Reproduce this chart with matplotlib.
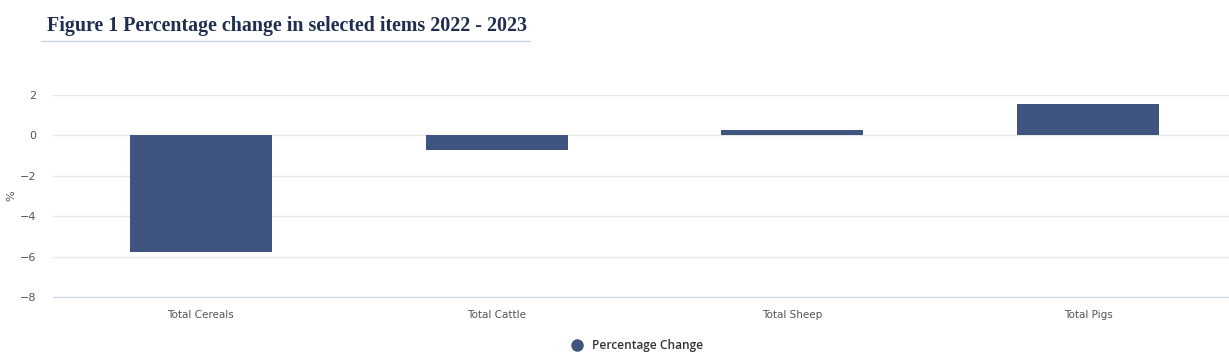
import matplotlib
matplotlib.use('Agg')
import matplotlib.pyplot as plt
from matplotlib.lines import Line2D

categories = ['Total Cereals', 'Total Cattle', 'Total Sheep', 'Total Pigs']
pct_change = [-5.78, -0.73, 0.25, 1.53]
yticks = [2, 0, -2, -4, -6, -8]

W, H = 1229, 360
fig = plt.figure(figsize=(W / 100, H / 100), dpi=100)
ax = fig.add_axes([53 / W, 1 - 297 / H, 1 - 53 / W, (297 - 95) / H])

x = list(range(len(categories)))
ax.bar(x, pct_change, width=0.48, color='#3f547f', zorder=3)

ax.set_xlim(-0.5, 3.476)
ax.set_ylim(-8, 2)
ax.set_yticks(yticks)
ax.set_yticklabels([str(v).replace('-', '\u2212') for v in yticks])
ax.set_xticks(x)
ax.set_xticklabels(categories)
ax.tick_params(axis='y', length=0, pad=12, labelsize=8, labelcolor='#555555')
ax.tick_params(axis='x', length=0, pad=9, labelsize=7.5, labelcolor='#555555')
ax.grid(axis='y', color='#e6e6e6', linewidth=1, zorder=0)
for s in ['top', 'right', 'left']:
    ax.spines[s].set_visible(False)
ax.spines['bottom'].set_color('#ccd6eb')
ax.spines['bottom'].set_zorder(4)
fig.text(11 / W, 1 - 196 / H, '%', fontsize=8, color='#555555', rotation=90,
         ha='center', va='center')

fig.text(47 / W, 1 - 26 / H, 'Figure 1 Percentage change in selected items 2022 - 2023',
         fontsize=14.4, fontweight='bold', family='Liberation Serif', color='#1f2d50', va='center')
fig.add_artist(Line2D([41 / W, 530 / W], [1 - 41 / H, 1 - 41 / H], color='#ccd6e0', linewidth=1))

handle = Line2D([], [], marker='o', linestyle='none', markersize=8, color='#3f547f')
fig.legend([handle], ['Percentage Change'], loc='center', bbox_to_anchor=(634 / W, 1 - 346 / H),
           frameon=False, prop={'size': 8.6, 'weight': 'semibold', 'family': 'Open Sans'},
           handletextpad=0.3, labelcolor='#333333')

fig.savefig('out.png', dpi=100)
